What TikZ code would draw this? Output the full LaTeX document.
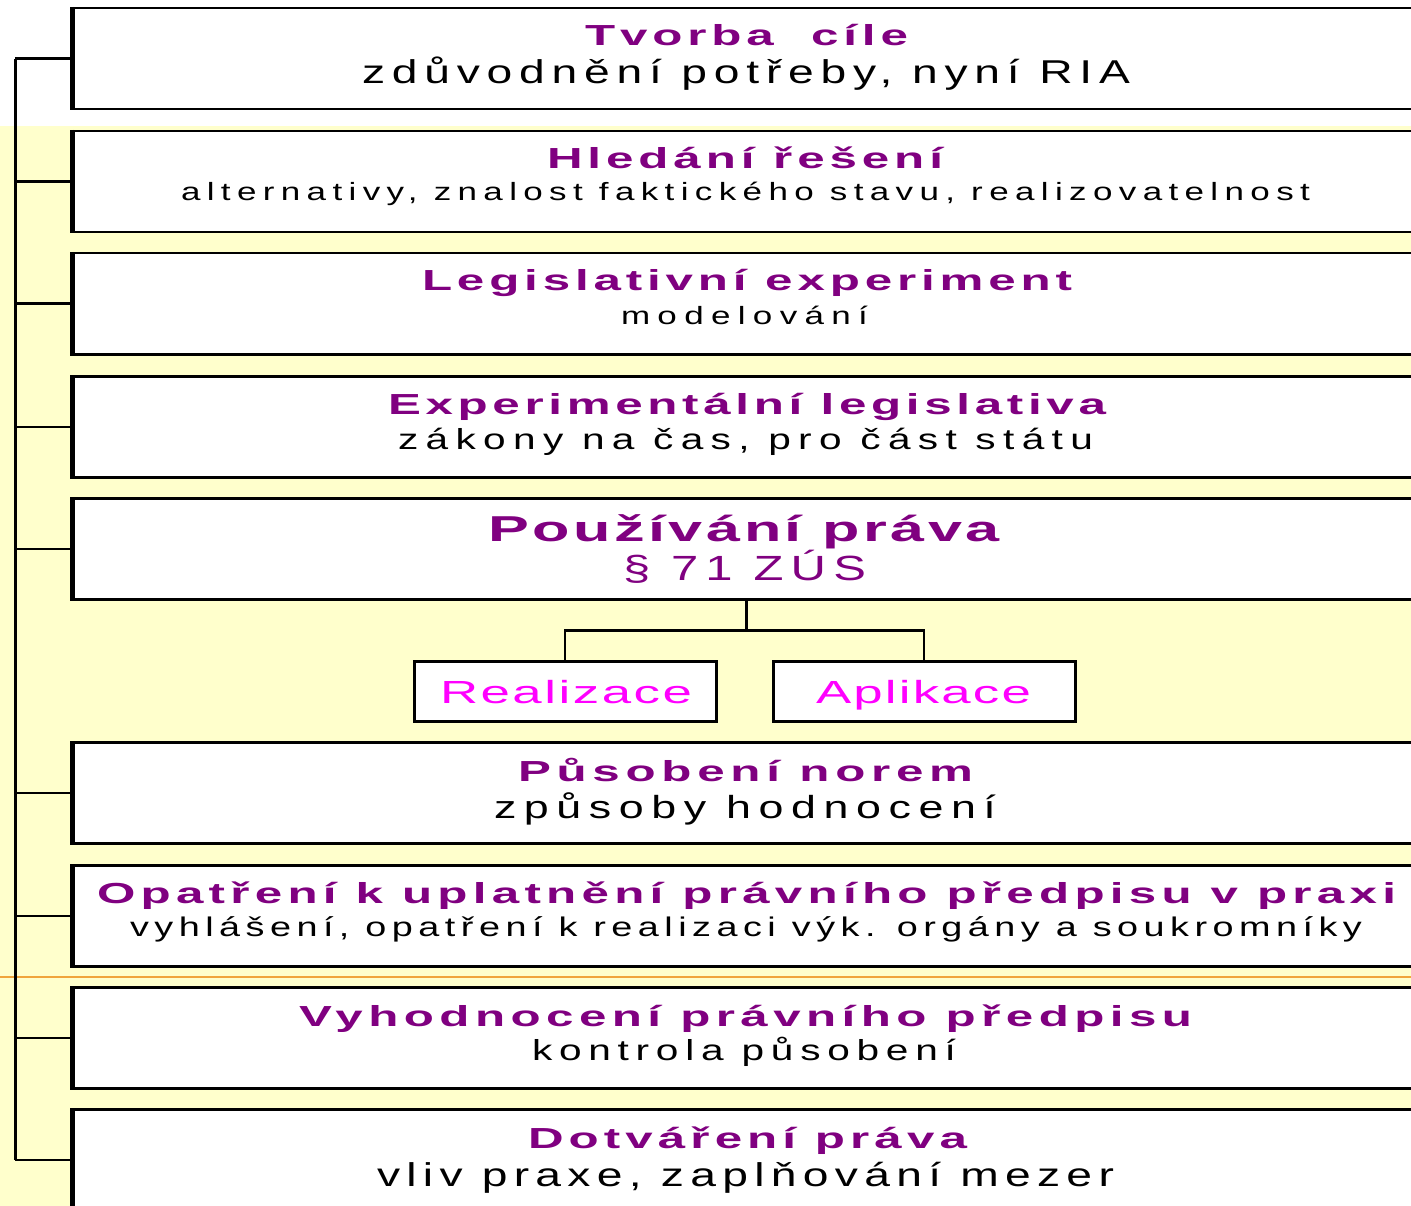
\documentclass[tikz,border=0pt]{standalone}
\usepackage{fontspec}
\usetikzlibrary{calc}
\setmainfont{Liberation Sans}
\definecolor{ttlpurple}{RGB}{128,0,128}
\definecolor{magent}{RGB}{255,0,255}
\definecolor{bgyellow}{RGB}{255,255,204}
\definecolor{orangeline}{RGB}{240,165,60}
\newlength\fitwa
\newlength\fitwb
% #1 target width, #2 horizontal stretch, #3 font, #4 text
\newcommand\fittext[4]{%
  \settowidth\fitwa{#3#4}%
  \settowidth\fitwb{#3\addfontfeature{LetterSpace=10}#4}%
  \pgfmathsetmacro\fitL{10*(#1/#2-\fitwa)/(\fitwb-\fitwa)}%
  \edef\fitdo{\noexpand\addfontfeature{LetterSpace=\fitL}}%
  \scalebox{#2}[1]{#3\fitdo #4}}
\tikzset{
  box/.style={draw=black, line width=2.5pt, fill=white, minimum width=1346pt,
    minimum height=101pt, inner sep=0pt, anchor=north west},
  subbox/.style={draw=black, line width=3pt, fill=white, minimum width=302pt,
    minimum height=60pt, inner sep=0pt},
  ttl/.style={anchor=base, inner sep=0pt, text=ttlpurple},
  sub/.style={anchor=base, inner sep=0pt, text=black},
  conn/.style={line width=2.5pt},
  trunk/.style={line width=3pt},
  leftedge/.style={line width=4pt}
}
\newcommand\TB[1]{\fontsize{#1}{#1}\selectfont\bfseries}
\newcommand\TR[1]{\fontsize{#1}{#1}\selectfont}
\def\sxT{1.7}
\def\sxS{1.4}
\begin{document}
\begin{tikzpicture}[x=1pt,y=-1pt]
\clip (0,0) rectangle (1411,1206);
% background
\fill[white] (0,0) rectangle (1411,126);
\fill[bgyellow] (0,126) rectangle (1411,1206);
\draw[orangeline, line width=2pt] (0,977) -- (1411,977);
% boxes
\foreach \i/\t in {1/7,2/130,3/252,4/375,5/497,6/741,7/864,8/986,9/1108}{
  \node[box] (b\i) at (72,\t) {};
}
% trunk and branches
\coordinate (tx) at (15,0);
\foreach \i in {1,...,9}{
  \coordinate (j\i) at (b\i.west -| tx);
}
\draw[trunk] (j1) -- (j9);
\foreach \i in {1,...,9}{
  \draw[conn] (j\i) -- (b\i.west);
  \draw[leftedge] (b\i.north west) -- (b\i.south west);
}
% sub boxes
\node[subbox] (r) at (565,691) {};
\node[subbox] (a) at (924,691) {};
\coordinate (fork) at ($(b5.south)+(0,30)$);
\draw[conn] (b5.south) -- (fork);
\draw[conn] (r.north) |- (fork) -| (a.north);
% texts
\node[ttl] (t1) at (746.5,46) {\fittext{323}{\sxT}{\TB{29}}{Tvorba~ cíle}};
\node[sub] (s1) at (746,84) {\fittext{768}{\sxS}{\TR{33}}{zdůvodnění potřeby, nyní RIA}};
\node[ttl] (t2) at (745,169) {\fittext{396}{\sxT}{\TB{29}}{Hledání řešení}};
\node[sub] (s2) at (745.5,201) {\fittext{1129}{\sxS}{\TR{25}}{alternativy, znalost faktického stavu, realizovatelnost}};
\node[ttl] (t3) at (747,291) {\fittext{650}{\sxT}{\TB{29}}{Legislativní experiment}};
\node[sub] (s3) at (744.5,324) {\fittext{247}{\sxS}{\TR{25}}{modelování}};
\node[ttl] (t4) at (747,414) {\fittext{718}{\sxT}{\TB{29}}{Experimentální legislativa}};
\node[sub] (s4) at (745.5,449) {\fittext{695}{\sxS}{\TR{29}}{zákony na čas, pro část státu}};
\node[ttl] (t5) at (744,541) {\fittext{512}{\sxT}{\TB{36}}{Používání práva}};
\node[ttl] (s5) at (744.5,580) {\fittext{243}{\sxS}{\TR{35}}{§ 71 ZÚS}};
\node[ttl] (t6) at (745.5,781) {\fittext{455}{\sxT}{\TB{29}}{Působení norem}};
\node[sub] (s6) at (745,818) {\fittext{502}{\sxS}{\TR{32}}{způsoby hodnocení}};
\node[ttl] (t7) at (746.5,903) {\fittext{1299}{\sxT}{\TB{29}}{Opatření k uplatnění právního předpisu v praxi}};
\node[sub] (s7) at (746,936) {\fittext{1232}{\sxS}{\TR{27}}{vyhlášení, opatření k realizaci výk. orgány a soukromníky}};
\node[ttl] (t8) at (745.5,1026) {\fittext{893}{\sxT}{\TB{29}}{Vyhodnocení právního předpisu}};
\node[sub] (s8) at (744,1060) {\fittext{424}{\sxS}{\TR{29}}{kontrola působení}};
\node[ttl] (t9) at (747.5,1148) {\fittext{439}{\sxT}{\TB{29}}{Dotváření práva}};
\node[sub] (s9) at (745.5,1186) {\fittext{737}{\sxS}{\TR{33}}{vliv praxe, zaplňování mezer}};
\node[anchor=base, inner sep=0pt, text=magent] (rt) at (566,703) {\fittext{252}{1.65}{\TR{32}}{Realizace}};
\node[anchor=base, inner sep=0pt, text=magent] (at) at (923.5,703) {\fittext{215}{1.65}{\TR{32}}{Aplikace}};
\end{tikzpicture}
\end{document}
